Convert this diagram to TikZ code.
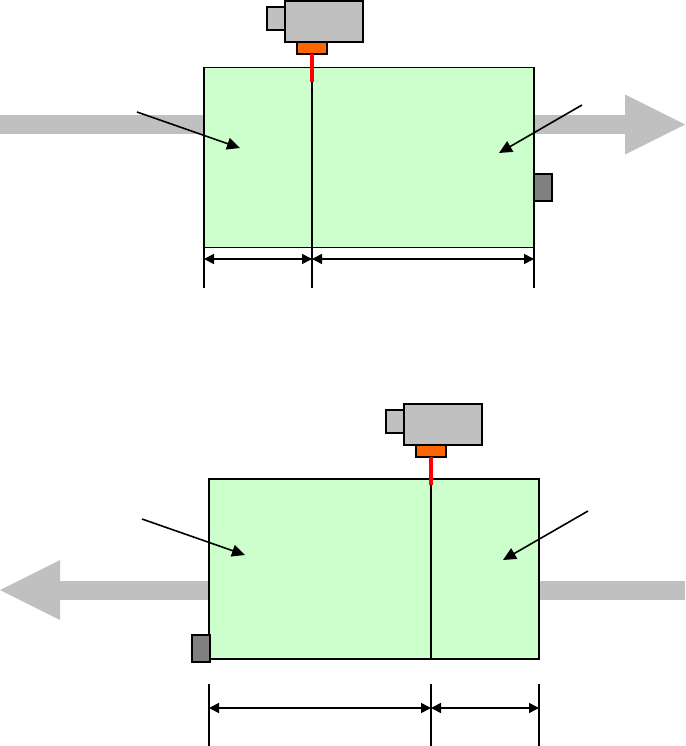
\documentclass[tikz,border=0pt]{standalone}
\usepackage{xcolor}
\definecolor{cellgreen}{HTML}{CCFFCC}
\definecolor{flowgray}{HTML}{C0C0C0}
\definecolor{lensorange}{HTML}{FF6600}
\definecolor{sensorgray}{HTML}{808080}
\usetikzlibrary{arrows.meta, backgrounds}

\begin{document}
\begin{tikzpicture}[
      x=1pt, y=-1pt,
      cell/.style={rectangle, draw=black, fill=cellgreen, anchor=north west, inner sep=0pt, outer sep=0pt,
                   minimum width=330pt, minimum height=180pt},
      body/.style={rectangle, draw=black, line width=1.5pt, fill=flowgray, anchor=north west, inner sep=0pt, outer sep=0pt,
                   minimum width=78pt, minimum height=41pt},
      lens/.style={rectangle, draw=black, line width=1.5pt, fill=flowgray, anchor=north west, inner sep=0pt, outer sep=0pt,
                   minimum width=18pt, minimum height=23pt},
      mount/.style={rectangle, draw=black, line width=1.5pt, fill=lensorange, anchor=north west, inner sep=0pt, outer sep=0pt,
                    minimum width=30pt, minimum height=12pt},
      sensor/.style={rectangle, draw=black, line width=1.2pt, fill=sensorgray, anchor=north west, inner sep=0pt, outer sep=0pt,
                     minimum width=18pt, minimum height=27pt},
      flow/.style={-{Triangle[length=60pt, width=60pt, line width=0pt]}, draw=flowgray, line width=19pt},
      plainflow/.style={draw=flowgray, line width=19pt},
      a/.style={-{Triangle[length=13pt, width=12pt]}, draw=black, line width=1.6pt},
      b/.style={{Triangle[length=10pt, width=10pt]}-{Triangle[length=10pt, width=10pt]}, draw=black, line width=1.6pt},
      beam/.style={draw=red, line width=3.2pt},
      cut/.style={draw=black, line width=1.6pt},
      tick/.style={draw=black, line width=1.6pt},
    ]
    \useasboundingbox (0,0) rectangle (685,746);

    % upper cell
    \node[cell, line width=1.2pt] (cella)  at (204,67.5) {};
    \node[body]   (bodya)  at (285,1)   {};
    \node[lens]   (lensa)  at (267,7)   {};
    \node[mount]  (mounta) at (297,42)  {};
    \node[sensor] (senseA) at (534,174) {};
    \coordinate (ina)    at (0,124.5);
    \coordinate (outa)   at (685,124.5);
    \coordinate (beama)  at (312,82);
    \coordinate (froma)  at (137,112);
    \coordinate (toa)    at (240,148);
    \coordinate (fromb)  at (582,105);
    \coordinate (tob)    at (499,153);
    \coordinate (marka)  at (204,259);
    \coordinate (markb)  at (312,259);
    \coordinate (markc)  at (534,259);
    \coordinate (enda)   at (204,288);
    \coordinate (endb)   at (312,288);
    \coordinate (endc)   at (534,288);
    \coordinate (basea)  at (312,247);

    \begin{scope}[on background layer]
      \draw[plainflow] (ina) -- (cella.west |- ina);
      \draw[flow] (cella.east |- ina) -- (outa);
    \end{scope}
    \draw[cut] (beama) -- (basea);
    \draw[beam] (mounta.south) -- (beama);
    \draw[a] (froma) -- (toa);
    \draw[a] (fromb) -- (tob);
    \draw[tick] (cella.south west) -- (enda);
    \draw[tick] (basea) -- (endb);
    \draw[tick] (cella.south east) -- (endc);
    \draw[b] (marka) -- (markb);
    \draw[b] (markb) -- (markc);

    % lower cell
    \node[cell, line width=1.6pt] (cellb)  at (209,479) {};
    \node[body]   (bodyb)  at (404,404) {};
    \node[lens]   (lensb)  at (386,410) {};
    \node[mount]  (mountb) at (416,445) {};
    \node[sensor] (senseB) at (192,635) {};
    \coordinate (inb)    at (685,590);
    \coordinate (outb)   at (0,590);
    \coordinate (beamb)  at (431,485);
    \coordinate (basec)  at (431,659);
    \coordinate (fromc)  at (142,519);
    \coordinate (toc)    at (245,555);
    \coordinate (fromd)  at (588,511);
    \coordinate (tod)    at (503,560);
    \coordinate (markd)  at (209,708);
    \coordinate (marke)  at (431,708);
    \coordinate (markf)  at (539,708);
    \coordinate (topd)   at (209,684);
    \coordinate (tope)   at (431,684);
    \coordinate (topf)   at (539,684);
    \coordinate (endd)   at (209,746);
    \coordinate (ende)   at (431,746);
    \coordinate (endf)   at (539,746);

    \begin{scope}[on background layer]
      \draw[plainflow] (inb) -- (cellb.east |- inb);
      \draw[flow] (cellb.west |- inb) -- (outb);
    \end{scope}
    \draw[cut] (beamb) -- (basec);
    \draw[beam] (mountb.south) -- (beamb);
    \draw[a] (fromc) -- (toc);
    \draw[a] (fromd) -- (tod);
    \draw[tick] (topd) -- (endd);
    \draw[tick] (tope) -- (ende);
    \draw[tick] (topf) -- (endf);
    \draw[b] (markd) -- (marke);
    \draw[b] (marke) -- (markf);
  \end{tikzpicture}
\end{document}
